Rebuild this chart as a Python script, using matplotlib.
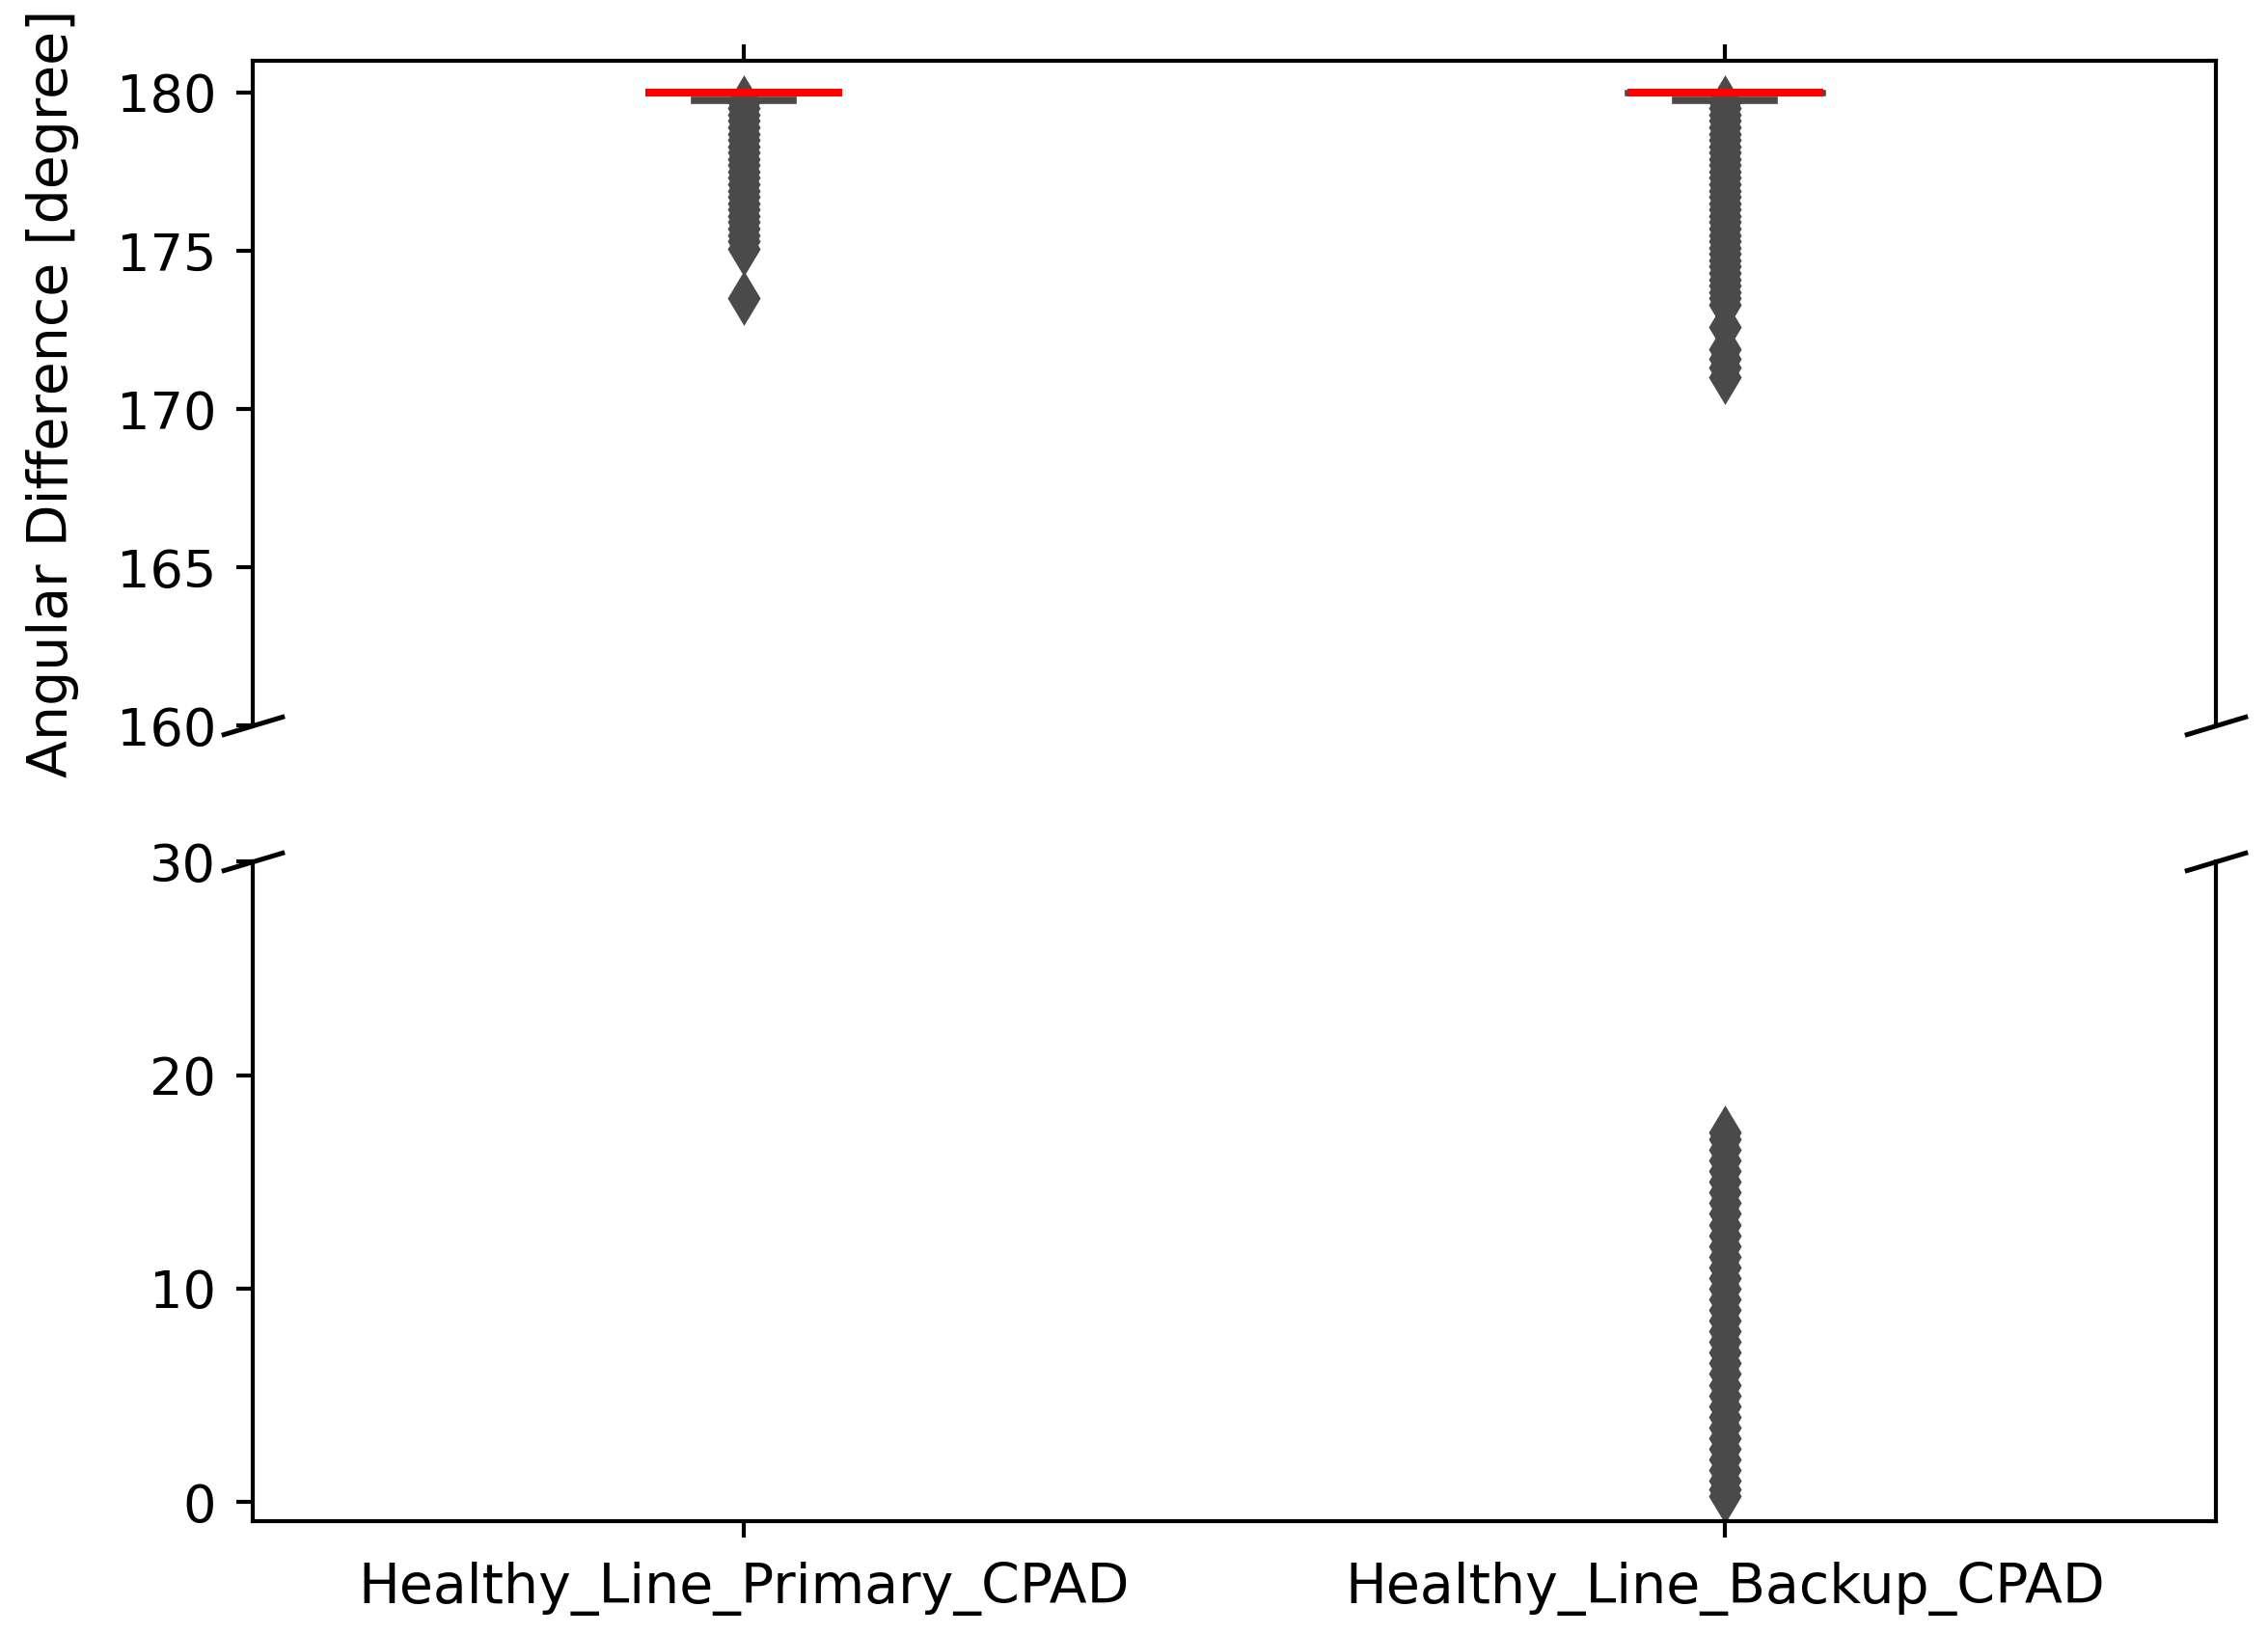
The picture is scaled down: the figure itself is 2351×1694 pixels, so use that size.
import numpy as np
import matplotlib.pyplot as plt

categories = ["Healthy_Line_Primary_CPAD", "Healthy_Line_Backup_CPAD"]

# box statistics (box collapsed at 180 degrees)
medians = [180.0, 180.0]
q1s = [180.0, 179.97]
q3s = [180.0, 180.0]
whis_lo = [179.76, 179.76]
whis_hi = [180.0, 180.0]

primary_fliers = [179.7, 179.5, 179.3, 179.1, 178.9, 178.7, 178.5, 178.3, 178.1,
                  177.9, 177.7, 177.5, 177.3, 177.1, 176.9, 176.7, 176.5, 176.3,
                  176.1, 175.9, 175.7, 175.5, 175.3, 175.05, 173.5]
backup_fliers = [179.7, 179.5, 179.3, 179.1, 178.9, 178.7, 178.5, 178.3, 178.1,
                 177.9, 177.7, 177.5, 177.3, 177.1, 176.9, 176.7, 176.5, 176.3,
                 176.1, 175.9, 175.7, 175.5, 175.3, 175.1, 174.9, 174.7, 174.5,
                 174.3, 174.1, 173.9, 173.7, 173.5, 173.3, 172.6, 171.9, 171.6,
                 171.3, 171.0,
                 17.3, 17.0, 16.5, 16.0, 15.5, 15.0, 14.5, 14.0, 13.5, 13.0,
                 12.5, 12.0, 11.5, 11.0, 10.5, 10.0, 9.5, 9.0, 8.5, 8.0, 7.5,
                 7.0, 6.5, 6.0, 5.5, 5.0, 4.5, 4.0, 3.5, 3.0, 2.5, 2.0, 1.5,
                 1.0, 0.6, 0.3]
fliers = [primary_fliers, backup_fliers]

top_ylim = (160, 181)
bottom_ylim = (-0.9, 30)
top_ticks = [160, 165, 170, 175, 180]
bottom_ticks = [0, 10, 20, 30]

stats = []
for i in range(len(categories)):
    stats.append({
        "med": medians[i], "q1": q1s[i], "q3": q3s[i],
        "whislo": whis_lo[i], "whishi": whis_hi[i],
        "fliers": np.array(fliers[i]), "label": categories[i],
    })

gray = "#4a4a4a"
fig = plt.figure(figsize=(23.51, 16.94), dpi=100)
ax_top = fig.add_axes([0.1116, 0.5558, 0.8654, 0.4070])
ax_bot = fig.add_axes([0.1116, 0.0690, 0.8654, 0.4036])

for ax in (ax_top, ax_bot):
    ax.bxp(stats, positions=[0, 1], widths=0.2, capwidths=0.1, patch_artist=True,
           boxprops=dict(facecolor=gray, edgecolor=gray, linewidth=4),
           whiskerprops=dict(color=gray, linewidth=4),
           capprops=dict(color=gray, linewidth=5.5),
           medianprops=dict(color="red", linewidth=5.8),
           flierprops=dict(marker="d", markersize=25, markerfacecolor=gray,
                           markeredgecolor=gray, markeredgewidth=2.5))
    ax.set_xlim(-0.5, 1.5)
    for sp in ax.spines.values():
        sp.set_linewidth(3)
    ax.tick_params(labelsize=39, length=12.5, width=3, pad=15)

ax_top.set_ylim(*top_ylim)
ax_top.set_yticks(top_ticks)
ax_bot.set_ylim(*bottom_ylim)
ax_bot.set_yticks(bottom_ticks)

ax_top.spines["bottom"].set_visible(False)
ax_bot.spines["top"].set_visible(False)
ax_top.xaxis.tick_top()
ax_top.tick_params(labeltop=False)
ax_bot.xaxis.tick_bottom()
ax_bot.set_xticks([0, 1])
ax_bot.set_xticklabels(categories, fontsize=41)
ax_bot.tick_params(axis="x", pad=18)

ax_top.set_ylabel("Angular Difference [degree]", fontsize=41, labelpad=28)

# break marks
d = 0.3
kw = dict(marker=[(-1, -d), (1, d)], markersize=47, linestyle="none",
          color="k", mec="k", mew=3.6, clip_on=False)
ax_top.plot([0, 1], [0, 0], transform=ax_top.transAxes, **kw)
ax_bot.plot([0, 1], [1, 1], transform=ax_bot.transAxes, **kw)

fig.savefig("out.png", dpi=100)
